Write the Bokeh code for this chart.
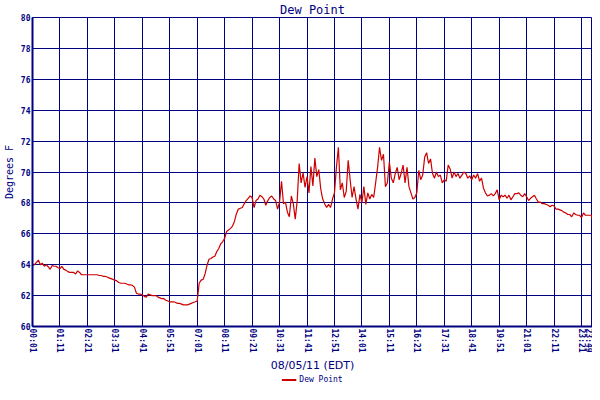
from bokeh.plotting import figure
from bokeh.layouts import column
from bokeh.models import FixedTicker, Legend, LegendItem, ColumnDataSource, Range1d
from bokeh.embed import file_html
from bokeh.resources import INLINE

# x positions: minutes after midnight (sampled every 5 minutes) on 08/05/11
minutes = list(range(1, 1427, 5)) + [1429]

# Dew point readings (deg F)
dew_point = [
    # 00:01 - 02:06
    63.95, 64.0, 64.15, 64.3, 64.0, 64.1, 63.9, 64.0, 63.87, 63.7,
    63.95, 63.9, 63.9, 63.8, 63.75, 63.9, 63.7, 63.65, 63.55, 63.5,
    63.5, 63.5, 63.4, 63.6, 63.5, 63.35,
    # 02:11 - 03:21
    63.35, 63.35, 63.35, 63.35, 63.35, 63.35, 63.35, 63.35,
    63.3, 63.3, 63.25, 63.25, 63.2, 63.15, 63.1,
    # 03:26 - 07:01
    63.05, 63.0, 62.95, 62.85, 62.8, 62.8, 62.8, 62.75, 62.7, 62.7, 62.65, 62.55,
    62.15, 62.1, 62.1, 62.05, 61.95, 61.9, 62.1, 62.05, 62.0, 62.0,
    62.0, 61.9, 61.85, 61.8, 61.8, 61.7, 61.65, 61.6, 61.6, 61.6,
    61.55, 61.5, 61.5, 61.45, 61.4, 61.4, 61.4, 61.45, 61.5, 61.55,
    61.6, 61.65,
    # 07:06 - 12:36
    62.8, 63.0, 63.05, 63.4, 63.95, 64.35, 64.4, 64.5, 64.55, 64.85,
    65.05, 65.35, 65.5, 65.7, 66.15, 66.25, 66.35, 66.5, 66.8, 67.3,
    67.6, 67.65, 67.7, 67.95, 68.15, 68.3, 68.45, 68.35, 67.7, 68.15,
    68.25, 68.5, 68.4, 68.25, 67.85, 68.15, 68.35, 68.45, 68.25, 68.15,
    67.6, 68.05, 69.4, 67.95, 68.05, 67.4, 67.1, 68.45, 67.95, 66.95,
    68.15, 70.55, 69.3, 69.95, 69.0, 69.7, 68.65, 70.35, 69.1, 70.9,
    69.7, 70.15, 68.9, 68.25, 67.95, 67.7, 67.9,
    # 12:41 - 15:01
    67.7, 68.25, 68.65, 70.3, 71.6, 68.85, 69.3, 68.35, 68.75, 70.75,
    69.5, 68.35, 69.05, 68.25, 67.6, 68.55, 68.0, 69.05, 67.9, 68.65,
    68.25, 68.55, 68.35, 69.3, 70.3, 71.6, 70.75, 71.15, 69.05,
    # 15:06 - 19:21
    69.3, 70.65, 69.6, 69.3, 69.9, 70.3, 69.5, 69.9, 70.45, 69.3,
    70.3, 69.05, 68.65, 68.25, 68.35, 68.65, 70.1, 69.5, 69.8, 70.95,
    71.25, 70.55, 70.85, 69.9, 69.6, 70.0, 69.7, 69.8, 69.3, 69.5,
    69.4, 70.45, 70.2, 69.6, 70.0, 69.7, 69.9, 69.6, 69.8, 70.0,
    69.9, 69.6, 69.75, 69.5, 69.8, 69.6, 69.9, 69.4, 69.6, 68.95,
    68.65, 68.45,
    # 19:26 - 23:46
    68.5, 68.6, 68.45, 68.6, 68.85, 68.2, 68.5, 68.4, 68.5, 68.3,
    68.5, 68.2, 68.4, 68.6, 68.6, 68.65, 68.5, 68.4, 68.6, 68.4,
    68.15, 68.3, 68.4, 68.5, 68.25, 68.05, 68.05, 67.95, 67.95, 67.9,
    67.85, 67.75, 67.85, 67.8, 67.6, 67.6, 67.55, 67.5, 67.4, 67.35,
    67.25, 67.25, 67.1, 67.35, 67.25, 67.2, 67.2, 67.05, 67.35, 67.2,
    67.2, 67.2, 67.2,
    # 23:49
    66.9,
]
assert len(minutes) == len(dew_point), (len(minutes), len(dew_point))

tick_minutes = [1, 71, 141, 211, 281, 351, 421, 491, 561, 631, 701, 771,
                841, 911, 981, 1051, 1121, 1191, 1261, 1331, 1401, 1429]
tick_labels = ["00:01", "01:11", "02:21", "03:31", "04:41", "05:51", "07:01",
               "08:11", "09:21", "10:31", "11:41", "12:51", "14:01", "15:11",
               "16:21", "17:31", "18:41", "19:51", "21:01", "22:11", "23:21",
               "23:49"]
y_ticks = [60, 62, 64, 66, 68, 70, 72, 74, 76, 78, 80]
series_name = "Dew Point"

NAVY = "#000080"
RED = "#CC0000"
MONO = "DejaVu Sans Mono"
W = 592

source = ColumnDataSource(data=dict(t=minutes, dp=dew_point))

p = figure(width=W, height=374, output_backend="svg", toolbar_location=None,
           x_range=Range1d(1, 1429), y_range=Range1d(60, 80),
           title="Dew Point", min_border_left=0, min_border_right=0,
           min_border_top=0, min_border_bottom=0)
p.background_fill_color = "white"
p.border_fill_color = "white"
p.outline_line_color = NAVY
p.outline_line_width = 1

p.title.align = "center"
p.title.text_color = NAVY
p.title.text_font = MONO
p.title.text_font_style = "normal"
p.title.text_font_size = "12px"
p.title.standoff = 1

p.line("t", "dp", source=source, line_color=RED, line_width=1.2)

p.xaxis.ticker = FixedTicker(ticks=tick_minutes)
p.xaxis.major_label_overrides = {m: l for m, l in zip(tick_minutes, tick_labels)}
p.xaxis.major_label_orientation = "vertical"
p.yaxis.ticker = FixedTicker(ticks=y_ticks)
p.xgrid.ticker = FixedTicker(ticks=tick_minutes)
p.ygrid.ticker = FixedTicker(ticks=y_ticks)

for g in (p.xgrid, p.ygrid):
    g.grid_line_color = NAVY
    g.grid_line_alpha = 1.0
    g.grid_line_width = 1

for ax in (p.xaxis, p.yaxis):
    ax.axis_line_color = NAVY
    ax.axis_line_width = 2
    ax.major_tick_out = 0
    ax.major_tick_in = 0
    ax.minor_tick_out = 0
    ax.minor_tick_in = 0
    ax.major_label_text_color = NAVY
    ax.major_label_text_font = MONO
    ax.major_label_text_font_style = "bold"
    ax.major_label_text_font_size = "8px"
    ax.major_label_standoff = 2
    ax.axis_label_text_color = NAVY
    ax.axis_label_text_font_style = "normal"

p.xaxis.axis_label = "08/05/11 (EDT)"
p.xaxis.axis_label_text_font = "DejaVu Sans"
p.xaxis.axis_label_text_font_size = "11px"
p.xaxis.axis_label_standoff = 3
p.yaxis.axis_label = "Degrees F"
p.yaxis.axis_label_text_font = MONO
p.yaxis.axis_label_text_font_size = "10px"
p.yaxis.axis_label_standoff = 3

# small strip below the chart holding the legend; its line uses the same data
# but the strip's ranges keep it out of view, so only the legend sample shows
leg = figure(width=W, height=10, output_backend="svg", toolbar_location=None,
             x_range=Range1d(-2, -1), y_range=Range1d(-2, -1),
             min_border=0, outline_line_color=None)
leg.axis.visible = False
leg.grid.visible = False
leg.background_fill_color = "white"
leg.border_fill_color = "white"
proxy = leg.line("t", "dp", source=source, line_color=RED, line_width=2)
legend = Legend(items=[LegendItem(label=series_name, renderers=[proxy])],
                orientation="horizontal", location="center")
legend.border_line_alpha = 0
legend.background_fill_alpha = 0
legend.label_text_font = MONO
legend.label_text_font_size = "8px"
legend.label_text_color = NAVY
legend.glyph_width = 15
legend.glyph_height = 8
legend.label_standoff = 3
legend.padding = 0
legend.margin = 0
legend.spacing = 0
legend.label_height = 8
leg.add_layout(legend, "center")

layout = column(p, leg, spacing=0)
open("out.html", "w").write(file_html(layout, INLINE))
